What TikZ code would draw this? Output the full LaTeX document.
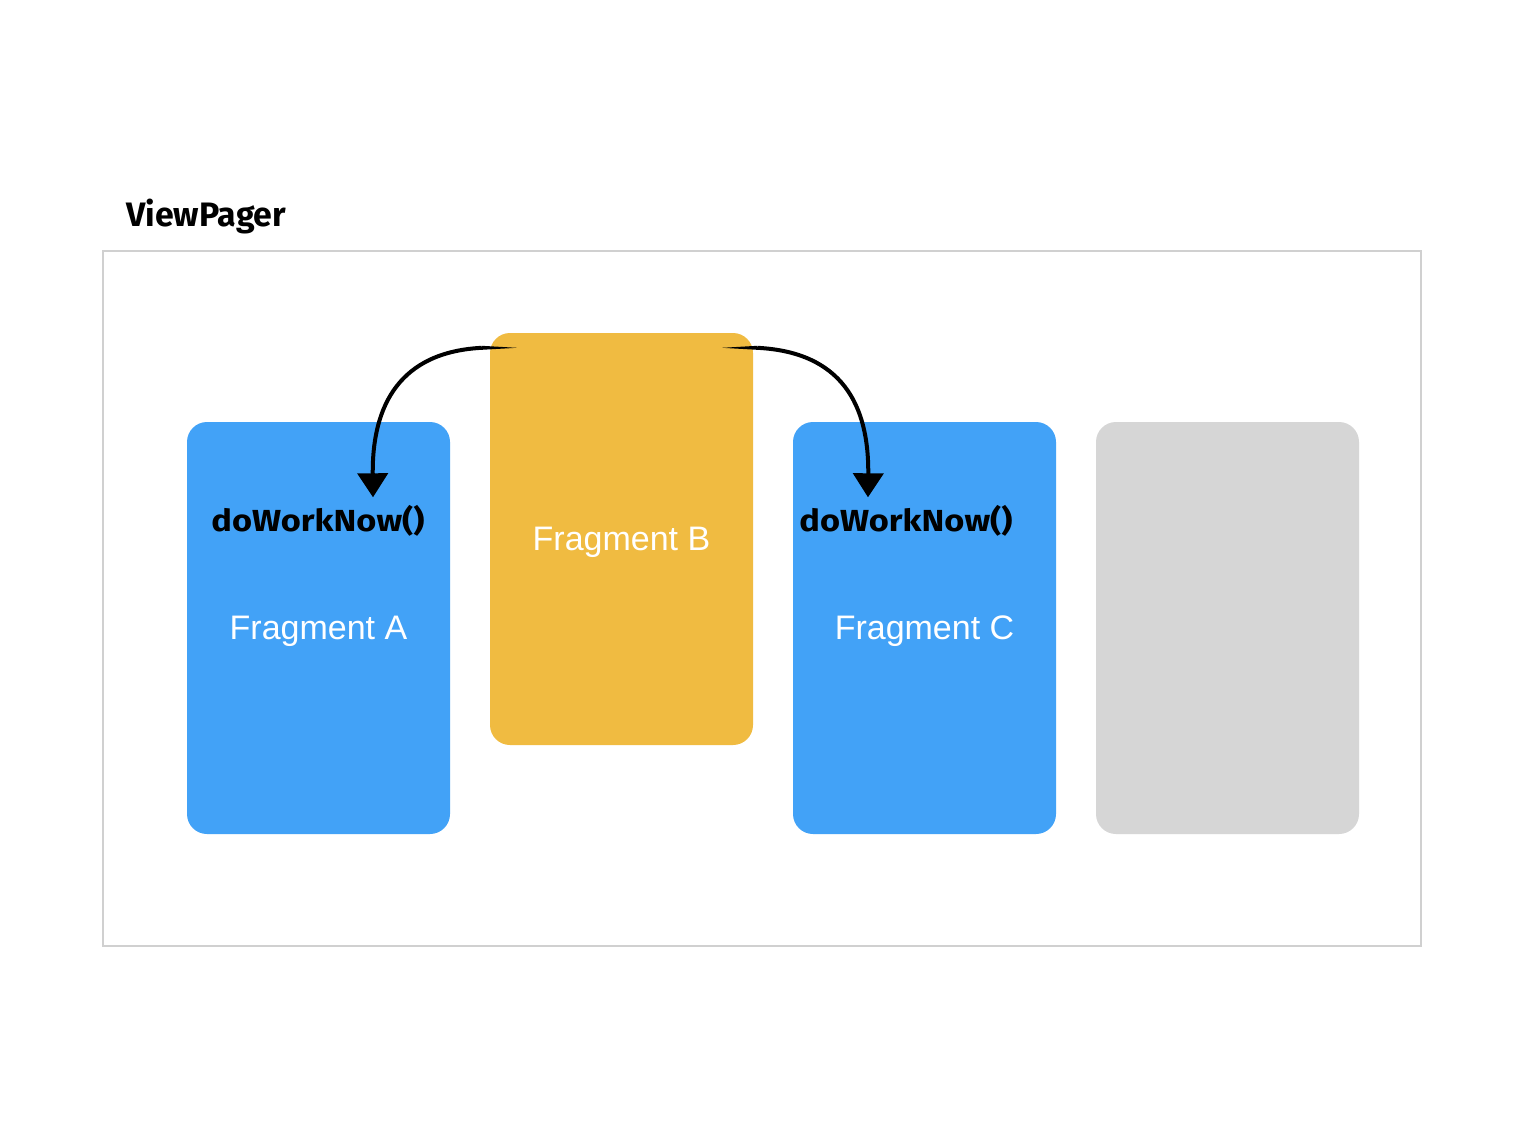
\documentclass[tikz,border=0pt]{standalone}
\usepackage{fontspec}
\setmainfont{Liberation Sans}
\newfontfamily\handfont{Fira Sans}
\usetikzlibrary{arrows.meta}
\definecolor{fragblue}{RGB}{66,162,247}
\definecolor{fragyellow}{RGB}{240,187,65}
\definecolor{fraggray}{RGB}{214,214,214}
\definecolor{framegray}{RGB}{208,208,208}
\tikzset{
  frag/.style={rounded corners=20pt, minimum width=263pt, minimum height=412pt, inner sep=0pt,
    text=white, text depth=0pt, font=\fontsize{34}{39}\selectfont},
  hand/.style={inner sep=0pt, text=black},
  callarrow/.style={line width=4pt, -{Triangle[width=30pt,length=24pt]}},
}
\begin{document}
\begin{tikzpicture}[x=1pt,y=-1pt]
\useasboundingbox (0,0) rectangle (1524,1136);
\fill[white] (0,0) rectangle (1524,1136);
\node[draw=framegray, line width=2.5pt, minimum width=1318pt, minimum height=695pt, inner sep=0pt] (vp) at (762,598.5) {};
\node[hand, anchor=west] (vplabel) at (126,217) {\resizebox*{160pt}{35pt}{\handfont\bfseries ViewPager}};
\node[frag, fill=fragblue] (A) at (318.5,628) {Fragment A};
\node[frag, fill=fragyellow] (B) at (621.5,539) {Fragment B};
\node[frag, fill=fragblue] (C) at (924.5,628) {Fragment C};
\node[frag, fill=fraggray] (D) at (1227.5,628) {};
\node[hand] (wA) at (318,521) {\resizebox*{213pt}{31pt}{\handfont\bfseries doWorkNow()}};
\node[hand] (wC) at (906,521) {\resizebox*{213pt}{31pt}{\handfont\bfseries doWorkNow()}};
% arrow from B to A
\coordinate (sA) at ([xshift=27pt,yshift=-15pt]B.north west);
\coordinate (mA) at ([xshift=-35pt]sA);
\coordinate (tA) at ([xshift=55pt,yshift=8pt]wA.north);
\fill (sA) -- ([yshift=2pt]mA) -- ([yshift=-2pt]mA) -- cycle;
\draw[callarrow] (mA) .. controls (400,352) and (372,405) .. (tA);
% arrow from B to C
\coordinate (sC) at ([xshift=-31pt,yshift=-15pt]B.north east);
\coordinate (mC) at ([xshift=35pt]sC);
\coordinate (tC) at ([xshift=-38pt,yshift=8pt]wC.north);
\fill (sC) -- ([yshift=2pt]mC) -- ([yshift=-2pt]mC) -- cycle;
\draw[callarrow] (mC) .. controls (842,352) and (869,405) .. (tC);
\end{tikzpicture}
\end{document}
